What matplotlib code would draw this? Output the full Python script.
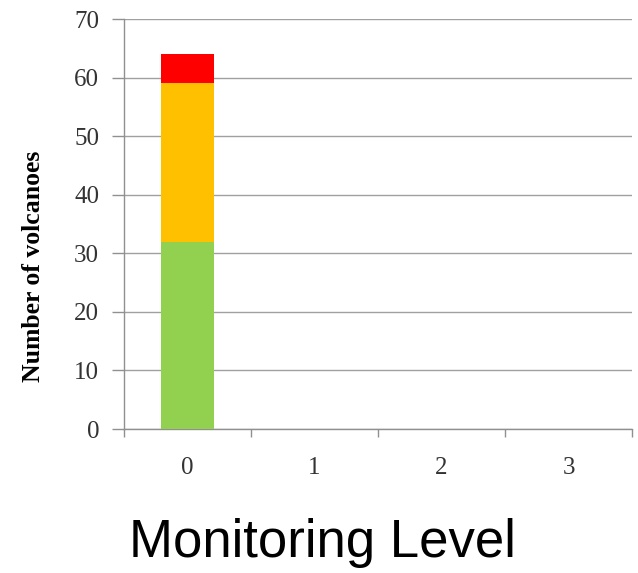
import numpy as np
import matplotlib.pyplot as plt

levels = ['0', '1', '2', '3']
low = [32, 0, 0, 0]
mid = [27, 0, 0, 0]
high = [5, 0, 0, 0]

green = '#92D050'
orange = '#FFC000'
red = '#FF0000'

fig = plt.figure(figsize=(6.38, 5.73), dpi=100)
ax = fig.add_axes([0.1944, 0.2513, 0.7962, 0.7155])

x = np.arange(len(levels))
w = 0.41
ax.bar(x, low, w, color=green, zorder=3)
ax.bar(x, mid, w, bottom=low, color=orange, zorder=3)
ax.bar(x, high, w, bottom=np.add(low, mid), color=red, zorder=3)

ax.set_xlim(-0.5, 3.5)
ax.set_ylim(0, 70)
ax.set_yticks(range(0, 71, 10))
ax.yaxis.grid(True, color='#a0a0a0', lw=1, zorder=0)

# category labels centred, tick marks at the boundaries
ax.set_xticks(np.arange(-0.5, 4, 1))
ax.set_xticklabels([])
ax.set_xticks(x, minor=True)
ax.set_xticklabels(levels, minor=True)
ax.tick_params(axis='x', which='minor', length=0, pad=20)
ax.tick_params(axis='x', which='major', length=6, color='#909090', width=1)
ax.tick_params(axis='y', length=9, color='#909090', width=1, pad=9)

for lab in ax.get_xticklabels(minor=True) + ax.get_yticklabels():
    lab.set_family('Liberation Serif')
    lab.set_fontsize(18)
    lab.set_color('#333333')

for s in ['top', 'right']:
    ax.spines[s].set_visible(False)
for s in ['left', 'bottom']:
    ax.spines[s].set_color('#909090')
    ax.spines[s].set_linewidth(1)

fig.text(0.053, 0.535, 'Number of volcanoes', rotation=90, ha='center', va='center',
         family='Liberation Serif', fontweight='bold', fontsize=18.5)
fig.text(0.505, 0.052, 'Monitoring Level', ha='center', va='center',
         family='Liberation Sans', fontsize=38)

fig.savefig('out.png', dpi=100)
